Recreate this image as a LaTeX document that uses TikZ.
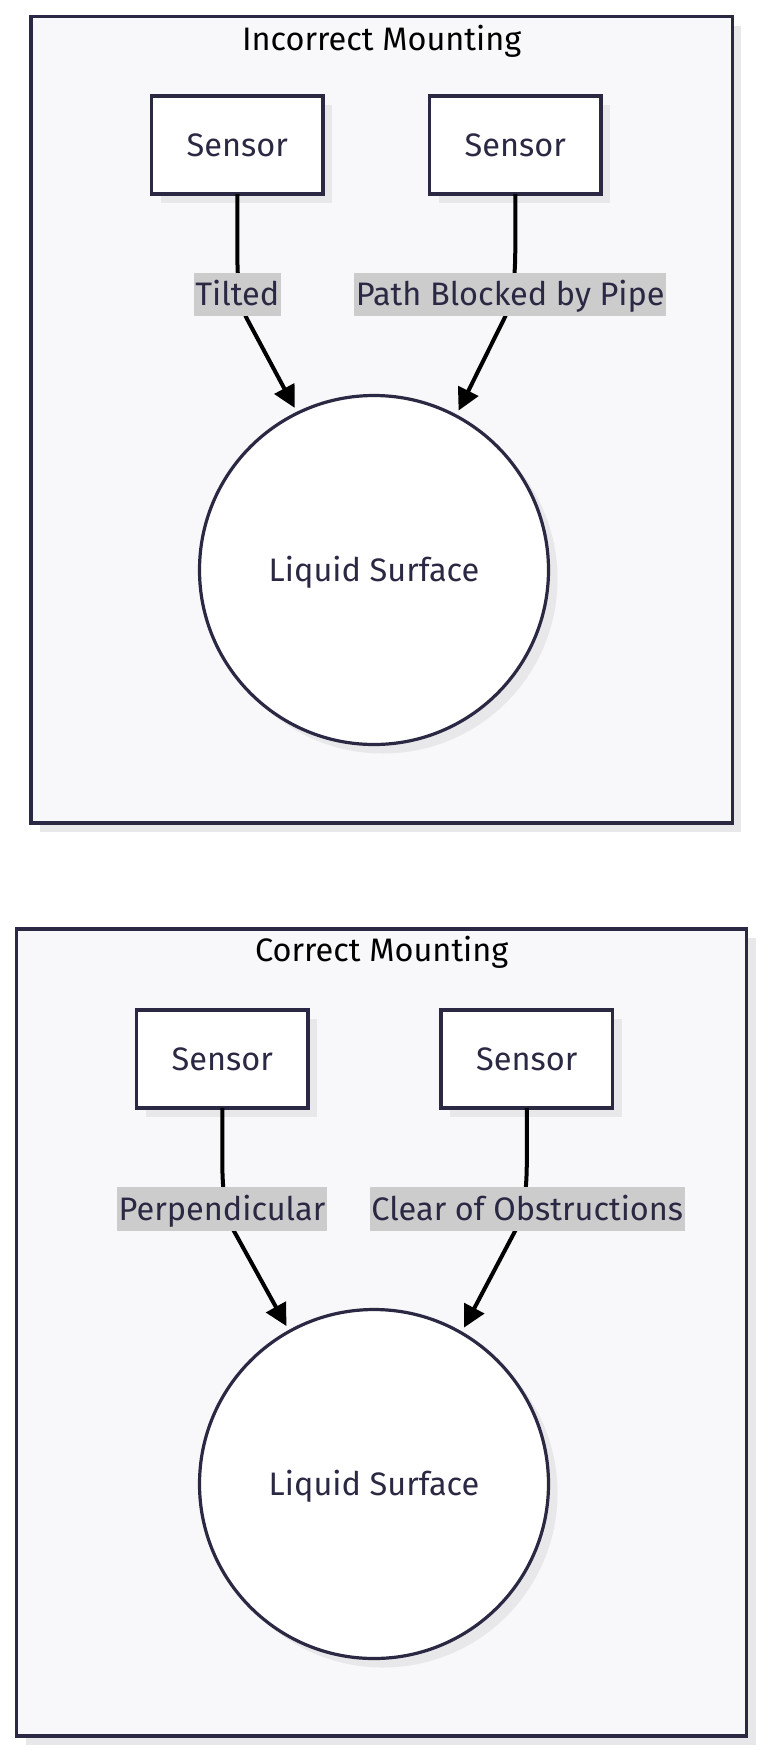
\documentclass[tikz,border=0pt]{standalone}
\usepackage{fontspec}
\setmainfont{Fira Sans}
\usetikzlibrary{arrows.meta,shadows}
\definecolor{ink}{RGB}{42,40,66}
\definecolor{clusterbg}{RGB}{248,248,250}
\definecolor{shadowc}{RGB}{232,232,234}
\definecolor{lblbg}{RGB}{204,204,204}
\newcommand\dfont{\fontsize{32.5pt}{39pt}\selectfont}
\tikzset{
  shd/.style={drop shadow={shadow xshift=9pt, shadow yshift=-9pt, fill=shadowc, opacity=1}},
  cluster/.style={draw=ink, line width=3.2pt, fill=clusterbg, shd, inner sep=0pt, outer sep=0pt},
  sensorbox/.style={draw=ink, line width=3.2pt, fill=white, shd, minimum width=171.5pt, minimum height=98pt,
    inner sep=0pt, outer sep=0pt, text=ink, font=\dfont, text height=22.4pt, text depth=0pt},
  liquid/.style={circle, draw=ink, line width=3.2pt, fill=white, shd, minimum size=349pt,
    inner sep=0pt, outer sep=0pt, text=ink, font=\dfont, text height=22.4pt, text depth=0pt},
  elabel/.style={fill=lblbg, text=ink, font=\dfont, inner xsep=1.5pt, inner ysep=0pt,
    minimum height=43.7pt, text height=22.4pt, text depth=0pt},
  conn/.style={line width=4pt, black, -{Triangle[length=22pt,width=22pt]}, shorten >=6pt},
  ctitle/.style={text=black, font=\dfont, anchor=base, inner sep=0pt},
}
\begin{document}
\begin{tikzpicture}[x=1pt,y=-1pt]
\useasboundingbox (0,0) rectangle (768,1762);
% clusters
\node[cluster, minimum width=701.3pt, minimum height=806.3pt] (k1) at (381.65,419.85) {};
\node[cluster, minimum width=730pt, minimum height=807pt] (k2) at (381.7,1332.5) {};
\node[ctitle] (t1) at (381.7,50) {Incorrect Mounting};
\node[ctitle] (t2) at (381.7,961.5) {Correct Mounting};
% incorrect mounting
\node[sensorbox] (s1) at (237.3,145) {Sensor};
\node[sensorbox] (s2) at (515.3,145) {Sensor};
\node[liquid] (c1) at (374,570) {Liquid Surface};
\draw[conn] (s1.south) -- (237.3,245) .. controls (237.3,285) and (239,300) .. (246,317) -- (c1.116);
\draw[conn] (s2.south) -- (515.3,245) .. controls (515.3,285) and (512,300) .. (505,317) -- (c1.62);
\node[elabel] (l1) at (237.3,294.6) {Tilted};
\node[elabel] (l2) at (510.3,294.6) {Path Blocked by Pipe};
% correct mounting
\node[sensorbox] (s3) at (222.3,1059) {Sensor};
\node[sensorbox] (s4) at (526.8,1059) {Sensor};
\node[liquid] (c2) at (374,1484) {Liquid Surface};
\draw[conn] (s3.south) -- (222.3,1160) .. controls (222.3,1200) and (227,1215) .. (233,1229.3) -- (c2.119);
\draw[conn] (s4.south) -- (526.8,1160) .. controls (526.8,1200) and (522,1215) .. (516,1229.3) -- (c2.60);
\node[elabel] (l3) at (222,1209) {Perpendicular};
\node[elabel] (l4) at (527.3,1209) {Clear of Obstructions};
\end{tikzpicture}
\end{document}
